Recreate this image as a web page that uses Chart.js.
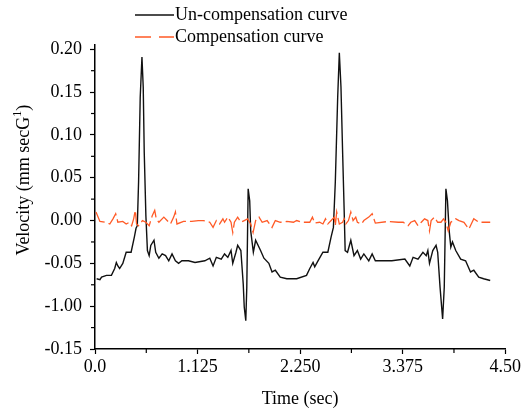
<!DOCTYPE html>
<html>
<head>
<meta charset="utf-8">
<script src="https://cdn.jsdelivr.net/npm/chart.js@4.4.1/dist/chart.umd.min.js"></script>
<style>
html,body{margin:0;padding:0;background:#fff;}
#wrap{width:523px;height:410px;position:relative;}
</style>
</head>
<body>
<div id="wrap"><canvas id="c" width="523" height="410"></canvas></div>
<script>
// ---- data ----
const seriesNames = ['Un-compensation curve', 'Compensation curve'];

const unTime = [0.018,0.054,0.072,0.126,0.180,0.216,0.234,0.251,0.270,0.305,0.342,0.396,0.432,0.450,0.464,0.478,0.496,0.515,0.529,0.540,0.558,0.575,0.594,0.612,0.647,0.666,0.701,0.737,0.774,0.809,0.845,0.882,0.917,0.953,1.025,1.097,1.205,1.259,1.295,1.331,1.385,1.421,1.457,1.492,1.511,1.546,1.565,1.600,1.626,1.637,1.654,1.665,1.680,1.697,1.708,1.737,1.762,1.816,1.853,1.907,1.942,1.978,2.032,2.104,2.212,2.320,2.356,2.392,2.410,2.446,2.500,2.554,2.590,2.615,2.636,2.662,2.680,2.698,2.716,2.733,2.744,2.770,2.806,2.841,2.878,2.914,2.949,3.003,3.040,3.075,3.148,3.256,3.399,3.453,3.489,3.543,3.597,3.633,3.651,3.669,3.705,3.741,3.759,3.785,3.813,3.831,3.849,3.866,3.885,3.903,3.921,3.957,4.011,4.065,4.119,4.155,4.209,4.263,4.335];
const unVel = [-0.068,-0.069,-0.066,-0.064,-0.064,-0.056,-0.049,-0.053,-0.056,-0.050,-0.037,-0.037,-0.019,-0.009,-0.006,0.045,0.144,0.191,0.156,0.080,0.006,-0.035,-0.041,-0.029,-0.023,-0.037,-0.044,-0.039,-0.041,-0.047,-0.039,-0.047,-0.050,-0.047,-0.047,-0.049,-0.047,-0.044,-0.053,-0.043,-0.045,-0.039,-0.043,-0.035,-0.050,-0.037,-0.029,-0.035,-0.074,-0.101,-0.117,-0.078,0.037,0.023,-0.012,-0.037,-0.023,-0.035,-0.044,-0.050,-0.060,-0.058,-0.066,-0.068,-0.068,-0.064,-0.056,-0.049,-0.054,-0.047,-0.037,-0.037,-0.019,-0.008,0.045,0.144,0.196,0.156,0.080,0.012,-0.035,-0.037,-0.023,-0.041,-0.035,-0.045,-0.039,-0.047,-0.039,-0.047,-0.047,-0.047,-0.045,-0.053,-0.043,-0.045,-0.037,-0.041,-0.035,-0.050,-0.035,-0.029,-0.037,-0.078,-0.115,-0.078,0.037,0.023,-0.012,-0.031,-0.025,-0.035,-0.045,-0.047,-0.060,-0.058,-0.066,-0.068,-0.070];

const compTime = [0.011,0.054,0.108,0.162,0.197,0.227,0.251,0.305,0.342,0.378,0.402,0.424,0.442,0.456,0.478,0.521,0.558,0.594,0.629,0.655,0.672,0.701,0.755,0.791,0.828,0.863,0.882,0.899,0.971,1.061,1.133,1.187,1.259,1.295,1.331,1.367,1.403,1.421,1.457,1.492,1.511,1.529,1.565,1.600,1.637,1.673,1.708,1.734,1.762,1.799,1.834,1.888,1.942,1.978,2.032,2.104,2.177,2.212,2.266,2.356,2.385,2.410,2.464,2.500,2.528,2.554,2.590,2.625,2.636,2.651,2.680,2.716,2.733,2.752,2.780,2.806,2.831,2.860,2.878,2.924,2.949,3.003,3.040,3.075,3.219,3.327,3.381,3.435,3.464,3.507,3.543,3.579,3.615,3.651,3.669,3.687,3.723,3.759,3.795,3.823,3.849,3.874,3.903,3.957,3.993,4.047,4.101,4.155,4.209,4.263,4.335];
const compVel = [0.010,-0.001,-0.002,-0.004,0.002,0.008,-0.002,-0.001,-0.004,-0.002,-0.006,0.002,0.012,-0.004,-0.006,0.000,-0.002,-0.006,0.006,0.012,0.002,-0.002,0.004,0.000,-0.004,0.004,0.010,-0.004,-0.001,-0.001,0.000,0.000,-0.002,-0.008,0.000,-0.004,0.002,-0.002,0.004,-0.002,-0.014,-0.002,0.004,-0.002,0.000,0.002,-0.004,-0.014,0.000,0.004,-0.002,0.000,-0.008,0.000,-0.002,-0.001,-0.002,0.000,-0.002,-0.002,0.004,-0.003,-0.002,-0.004,0.002,-0.004,0.000,0.004,-0.006,0.010,-0.004,-0.002,0.002,-0.004,0.000,0.010,0.000,0.004,-0.002,-0.004,0.000,0.004,0.008,-0.003,-0.001,-0.002,-0.002,-0.006,-0.002,0.000,-0.006,-0.002,0.002,0.000,-0.012,0.000,0.004,-0.002,-0.002,0.002,-0.002,-0.012,-0.002,0.002,0.000,-0.002,-0.010,0.002,-0.002,-0.002,-0.002];

const xTickValues = [0, 1.125, 2.25, 3.375, 4.5];
const xTickLabels = ['0.0', '1.125', '2.250', '3.375', '4.50'];
const yTickValues = [-0.15, -0.10, -0.05, 0.00, 0.05, 0.10, 0.15, 0.20];
const yTickLabels = ['-0.15', '-1.00', '-0.05', '0.00', '0.05', '0.10', '0.15', '0.20'];
const xTitle = 'Time (sec)';
const yTitleMain = 'Velocity (mm secG';
const yTitleSup = '1';
const yTitleEnd = ')';

// ---- styling ----
const FONT = 'Liberation Serif';
const FSIZE = 18;
const black = '#111111';
const orange = '#ff5a26';

const toPts = (xs, ys) => xs.map((x, i) => ({x: x, y: ys[i]}));

const extras = {
  id: 'extras',
  afterDraw(chart) {
    const ctx = chart.ctx;
    const xs = chart.scales.x, ys = chart.scales.y;
    ctx.save();
    // minor ticks
    ctx.strokeStyle = '#000';
    ctx.lineWidth = 1.2;
    for (let i = 0; i < xTickValues.length - 1; i++) {
      const v = (xTickValues[i] + xTickValues[i + 1]) / 2;
      const px = xs.getPixelForValue(v);
      ctx.beginPath(); ctx.moveTo(px, xs.top); ctx.lineTo(px, xs.top + 4); ctx.stroke();
    }
    for (let i = 0; i < yTickValues.length - 1; i++) {
      const v = (yTickValues[i] + yTickValues[i + 1]) / 2;
      const py = ys.getPixelForValue(v);
      ctx.beginPath(); ctx.moveTo(ys.right, py); ctx.lineTo(ys.right - 4, py); ctx.stroke();
    }
    // y title with superscript
    const cy = (ys.getPixelForValue(0.2) + ys.getPixelForValue(-0.15)) / 2 - 19;
    ctx.translate(24, cy);
    ctx.rotate(-Math.PI / 2);
    ctx.fillStyle = '#000';
    ctx.textBaseline = 'middle';
    const f1 = FSIZE + 'px "' + FONT + '"', f2 = '12px "' + FONT + '"';
    ctx.font = f1; const w1 = ctx.measureText(yTitleMain).width;
    ctx.font = f2; const w2 = ctx.measureText(yTitleSup).width;
    ctx.font = f1; const w3 = ctx.measureText(yTitleEnd).width;
    let x0 = -(w1 + w2 + w3) / 2;
    ctx.textAlign = 'left';
    ctx.font = f1; ctx.fillText(yTitleMain, x0, 0);
    ctx.font = f2; ctx.fillText(yTitleSup, x0 + w1, -6);
    ctx.font = f1; ctx.fillText(yTitleEnd, x0 + w1 + w2, 0);
    ctx.restore();

    // legend
    ctx.save();
    const ds = chart.data.datasets;
    const rows = [15, 37];
    ds.forEach((d, i) => {
      const y = rows[i];
      ctx.strokeStyle = d.borderColor;
      ctx.lineWidth = 1.6;
      ctx.setLineDash(i === 1 ? [16, 8] : []);
      ctx.beginPath(); ctx.moveTo(135, y); ctx.lineTo(174, y); ctx.stroke();
      ctx.setLineDash([]);
      ctx.fillStyle = '#000';
      ctx.font = FSIZE + 'px "' + FONT + '"';
      ctx.textBaseline = 'middle';
      ctx.textAlign = 'left';
      ctx.fillText(d.label, 175, y);
    });
    ctx.restore();
  }
};

const tickFont = {family: FONT, size: FSIZE};

new Chart(document.getElementById('c'), {
  type: 'line',
  data: {
    datasets: [
      {label: seriesNames[0], data: toPts(unTime, unVel), borderColor: black, borderWidth: 1.4, pointRadius: 0, tension: 0, order: 2},
      {label: seriesNames[1], data: toPts(compTime, compVel), borderColor: orange, borderWidth: 1.3, borderDash: [15, 4], pointRadius: 0, tension: 0, order: 1}
    ]
  },
  options: {
    responsive: false,
    animation: false,
    devicePixelRatio: 1,
    layout: {autoPadding: false, padding: {top: 45, right: 11, left: 0, bottom: 0}},
    plugins: {legend: {display: false}, tooltip: {enabled: false}},
    scales: {
      x: {
        type: 'linear', min: 0, max: 4.5,
        border: {display: true, color: '#000', width: 1.5},
        grid: {display: true, drawOnChartArea: false, drawTicks: true, tickLength: 5, tickColor: '#000', tickWidth: 1.2},
        ticks: {font: tickFont, color: '#000', padding: 2, maxRotation: 0, autoSkip: false,
                callback: (v, i) => xTickLabels[i]},
        afterBuildTicks: s => { s.ticks = xTickValues.map(v => ({value: v})); },
        afterFit: s => { s.height = 61; },
        title: {display: true, text: xTitle, font: tickFont, color: '#000', padding: {top: 8, bottom: 0}}
      },
      y: {
        type: 'linear', min: -0.15, max: 0.205,
        border: {display: true, color: '#000', width: 1.5},
        grid: {display: true, drawOnChartArea: false, drawTicks: true, tickLength: 5, tickColor: '#000', tickWidth: 1.2},
        ticks: {font: tickFont, color: '#000', padding: 8, autoSkip: false,
                callback: (v, i) => yTickLabels[i]},
        afterBuildTicks: s => { s.ticks = yTickValues.map(v => ({value: v})); },
        afterFit: s => { s.width = 95; }
      }
    }
  },
  plugins: [extras]
});
</script>
</body>
</html>
